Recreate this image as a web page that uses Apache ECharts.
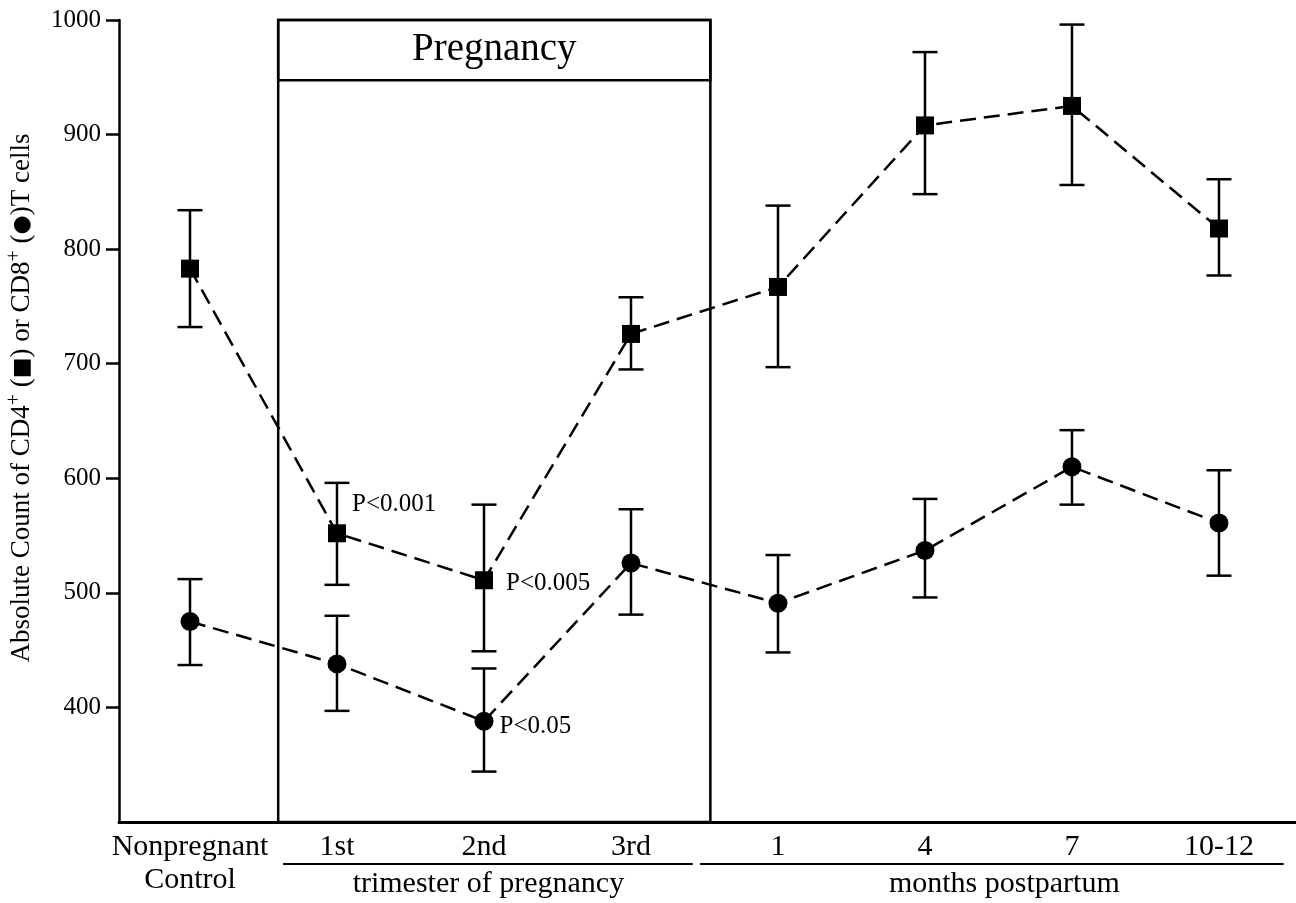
<!DOCTYPE html>
<html><head><meta charset="utf-8">
<script src="https://cdn.jsdelivr.net/npm/echarts@6/dist/echarts.min.js"></script>
<style>html,body{margin:0;padding:0;background:#fff}#c{width:1296px;height:903px}</style>
</head><body><div id="c"></div>
<script>
const categories = ['Nonpregnant\nControl','1st','2nd','3rd','1','4','7','10-12'];
const yTicks = [400,500,600,700,800,900,1000];
const cd4Mean  = [783,552,511,726,767,908,925,818];
const cd4Upper = [834,596,577,758,838,972,996,861];
const cd4Lower = [732,507,449,695,697,848,856,777];
const cd8Mean  = [475,438,388,526,491,537,610,561];
const cd8Upper = [512,480,434,573,533,582,642,607];
const cd8Lower = [437,397,344,481,448,496,577,515];
const cd4PLabels = {1:'P<0.001', 2:'P<0.005'};
const cd8PLabels = {2:'P<0.05'};
const groupLabels = ['trimester of pregnancy','months postpartum'];
const pregnancyLabel = 'Pregnancy';
const yTitle = 'Absolute Count of CD4{sup|+} ({sym|■}) or CD8{sup|+} ({sym|●})T cells';

const FONT = '"Liberation Serif", "Times New Roman", serif';
const chart = echarts.init(document.getElementById('c'), null, {renderer:'canvas'});

function errRender(params, api){
  const x = api.value(0), lo = api.value(1), hi = api.value(2);
  const pLo = api.coord([x, lo]), pHi = api.coord([x, hi]);
  const hw = 12.5;
  const style = {stroke:'#000', lineWidth:2.5};
  return {type:'group', children:[
    {type:'line', shape:{x1:pHi[0],y1:pHi[1],x2:pLo[0],y2:pLo[1]}, style:style},
    {type:'line', shape:{x1:pHi[0]-hw,y1:pHi[1],x2:pHi[0]+hw,y2:pHi[1]}, style:style},
    {type:'line', shape:{x1:pLo[0]-hw,y1:pLo[1],x2:pLo[0]+hw,y2:pLo[1]}, style:style}
  ]};
}
function lineData(means, labels, offsets){
  return means.map((v,i)=>{
    const d = {value:[i, v]};
    if (labels[i]) {
      d.label = {show:true, formatter:labels[i], position:'right', distance:6,
        offset: offsets[i], fontSize:25, fontFamily:FONT, color:'#000'};
    }
    return d;
  });
}
const pOffsets4 = {1:[0,-29], 2:[7,3]};
const pOffsets8 = {2:[0,5]};

const option = {
  animation:false,
  backgroundColor:'#fff',
  grid:{left:119, top:20, right:0, bottom:81, outerBoundsMode:'none', containLabel:false},
  xAxis:{
    type:'value', min:-0.483, max:7.524,
    axisLine:{show:true, onZero:false, lineStyle:{color:'#000', width:3}},
    axisTick:{show:false},
    splitLine:{show:false},
    axisLabel:{
      customValues:[0,1,2,3,4,5,6,7],
      formatter:(v)=>categories[Math.round(v)],
      fontSize:30, fontFamily:FONT, color:'#000', margin:9, lineHeight:33
    }
  },
  yAxis:{
    type:'value', min:300, max:1000, interval:100,
    axisLine:{show:true, onZero:false, lineStyle:{color:'#000', width:2.5}},
    axisTick:{show:true, customValues:yTicks, length:13, lineStyle:{color:'#000', width:2.5}},
    splitLine:{show:false},
    axisLabel:{customValues:yTicks, formatter:(v)=>String(v), fontSize:25, fontFamily:FONT, color:'#000', margin:18}
  },
  series:[
    {
      type:'custom', name:'cd4err', renderItem:errRender, z:2,
      encode:{x:0, y:[1,2]},
      data:categories.map((c,i)=>[i, cd4Lower[i], cd4Upper[i]])
    },
    {
      type:'custom', name:'cd8err', renderItem:errRender, z:2,
      encode:{x:0, y:[1,2]},
      data:categories.map((c,i)=>[i, cd8Lower[i], cd8Upper[i]])
    },
    {
      type:'line', name:'CD4', z:3,
      symbol:'rect', symbolSize:18,
      lineStyle:{color:'#000', width:2.5, type:[16,8]},
      itemStyle:{color:'#000'},
      emphasis:{disabled:true},
      data:lineData(cd4Mean, cd4PLabels, pOffsets4),
      markArea:{
        silent:true,
        itemStyle:{color:'rgba(0,0,0,0)', borderColor:'#000', borderWidth:2.5},
        data:[
          [{coord:[0.6,300]}, {coord:[3.54,1000]}],
          [{coord:[0.6,947.5], label:{show:true, position:'inside', formatter:pregnancyLabel,
             fontSize:39, fontFamily:FONT, color:'#000'}}, {coord:[3.54,1000]}]
        ]
      }
    },
    {
      type:'line', name:'CD8', z:3,
      symbol:'circle', symbolSize:19,
      lineStyle:{color:'#000', width:2.5, type:[16,8]},
      itemStyle:{color:'#000'},
      emphasis:{disabled:true},
      data:lineData(cd8Mean, cd8PLabels, pOffsets8)
    }
  ]
};
chart.setOption(option);

const px = v => chart.convertToPixel({xAxisIndex:0}, v);
const underlineY = 864, groupLabelY = 884;
chart.setOption({
  graphic:[
    {type:'line', shape:{x1:px(0.633), y1:underlineY, x2:px(3.42), y2:underlineY}, style:{stroke:'#000', lineWidth:2}},
    {type:'line', shape:{x1:px(3.47), y1:underlineY, x2:px(7.44), y2:underlineY}, style:{stroke:'#000', lineWidth:2}},
    {type:'text', x:px(2.03), y:groupLabelY, style:{text:groupLabels[0], font:'30px '+FONT, fill:'#000', textAlign:'center', textVerticalAlign:'middle'}},
    {type:'text', x:px(5.54), y:groupLabelY, style:{text:groupLabels[1], font:'30px '+FONT, fill:'#000', textAlign:'center', textVerticalAlign:'middle'}},
    {type:'text', x:22, y:398, rotation:Math.PI/2,
     style:{text:yTitle, font:'27px '+FONT, fill:'#000', textAlign:'center', textVerticalAlign:'middle',
       rich:{
         sup:{fontSize:20, fontFamily:FONT, padding:[0,0,14,0]},
         sym:{fontSize:22, fontFamily:'"DejaVu Sans"'}
       }}}
  ]
});
</script>
</body></html>
